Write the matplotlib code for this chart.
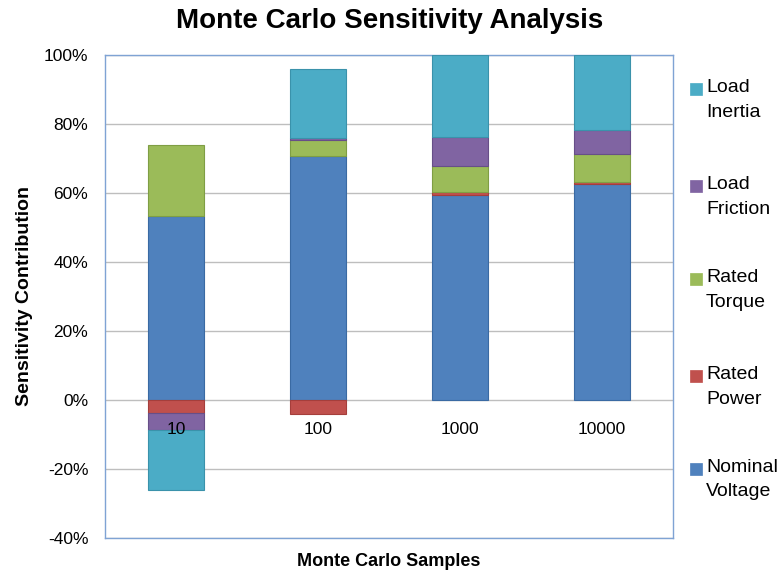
import matplotlib
matplotlib.use("Agg")
import matplotlib.pyplot as plt
import numpy as np
from matplotlib.patches import Rectangle

plt.rcParams['font.family'] = ['Liberation Sans', 'DejaVu Sans']

samples = ["10", "100", "1000", "10000"]
legend_labels = ["Nominal\nVoltage", "Rated\nPower", "Rated\nTorque", "Load\nFriction", "Load\nInertia"]
nominal_voltage = [53.4, 70.6, 59.4, 62.7]
rated_power = [-3.9, -4.2, 0.9, 0.5]
rated_torque = [20.6, 4.9, 7.4, 8.0]
load_friction = [-4.8, 0.5, 8.4, 7.0]
load_inertia = [-17.5, 20.0, 23.9, 21.8]

colors = ["#4F81BD", "#C0504D", "#9BBB59", "#8064A2", "#4BACC6"]
edges = ["#3A6AA3", "#A53E3B", "#7F9E44", "#674F88", "#3A92AB"]

W, H = 782, 573
fig = plt.figure(figsize=(W / 100, H / 100), dpi=100)
ax = fig.add_axes([105 / W, 1 - 538 / H, 568 / W, 483 / H])

x = np.arange(len(samples))
pos_bottom = np.zeros(len(samples))
neg_bottom = np.zeros(len(samples))
values = [nominal_voltage, rated_power, rated_torque, load_friction, load_inertia]
for vals, c, ec in zip(values, colors, edges):
    vals = np.array(vals, dtype=float)
    bottoms = np.where(vals >= 0, pos_bottom, neg_bottom)
    ax.bar(x, vals, width=0.4, bottom=bottoms, color=c, edgecolor=ec, linewidth=0.8, zorder=3)
    pos_bottom += np.where(vals >= 0, vals, 0)
    neg_bottom += np.where(vals < 0, vals, 0)

ax.set_xlim(-0.5, len(samples) - 0.5)
ax.set_ylim(-40, 100)
ax.set_yticks(np.arange(-40, 101, 20))
ax.set_yticklabels([f"{v}%" for v in range(-40, 101, 20)], fontsize=12.5)
ax.tick_params(axis='y', length=0, pad=12)
ax.set_xticks([])
ax.yaxis.grid(True, color="#BEBEBE", linewidth=1.0, zorder=0)
for s in ax.spines.values():
    s.set_color("#7FA3D4")
    s.set_linewidth(1.0)

# category labels sit just under the zero line
for xi, lab in zip(x, samples):
    ax.annotate(lab, (xi, 0), xytext=(0, -15.5), textcoords="offset points",
                ha="center", va="top", fontsize=12.5, zorder=4)

ax.set_ylabel("Sensitivity Contribution", fontsize=14, fontweight="bold", labelpad=8)
fig.text(0.5 * (105 + 673) / W, 1 - 562 / H, "Monte Carlo Samples",
         ha="center", va="center", fontsize=13, fontweight="bold")
fig.text(390 / W, 1 - 21 / H, "Monte Carlo Sensitivity Analysis",
         ha="center", va="center", fontsize=20, fontweight="bold")

# legend, top entry first
first_line_y = [88, 184.5, 278, 374.5, 467.5]
line_gap = 24.5
for yc, lab, c in zip(first_line_y, legend_labels[::-1], colors[::-1]):
    fig.patches.append(Rectangle((690 / W, 1 - (yc + 7) / H), 12 / W, 12 / H,
                                 transform=fig.transFigure, facecolor=c,
                                 edgecolor=c, linewidth=0.5))
    for k, line in enumerate(lab.split("\n")):
        fig.text(706 / W, 1 - (yc + k * line_gap) / H, line,
                 ha="left", va="center", fontsize=14)

fig.savefig("out.png", dpi=100)
